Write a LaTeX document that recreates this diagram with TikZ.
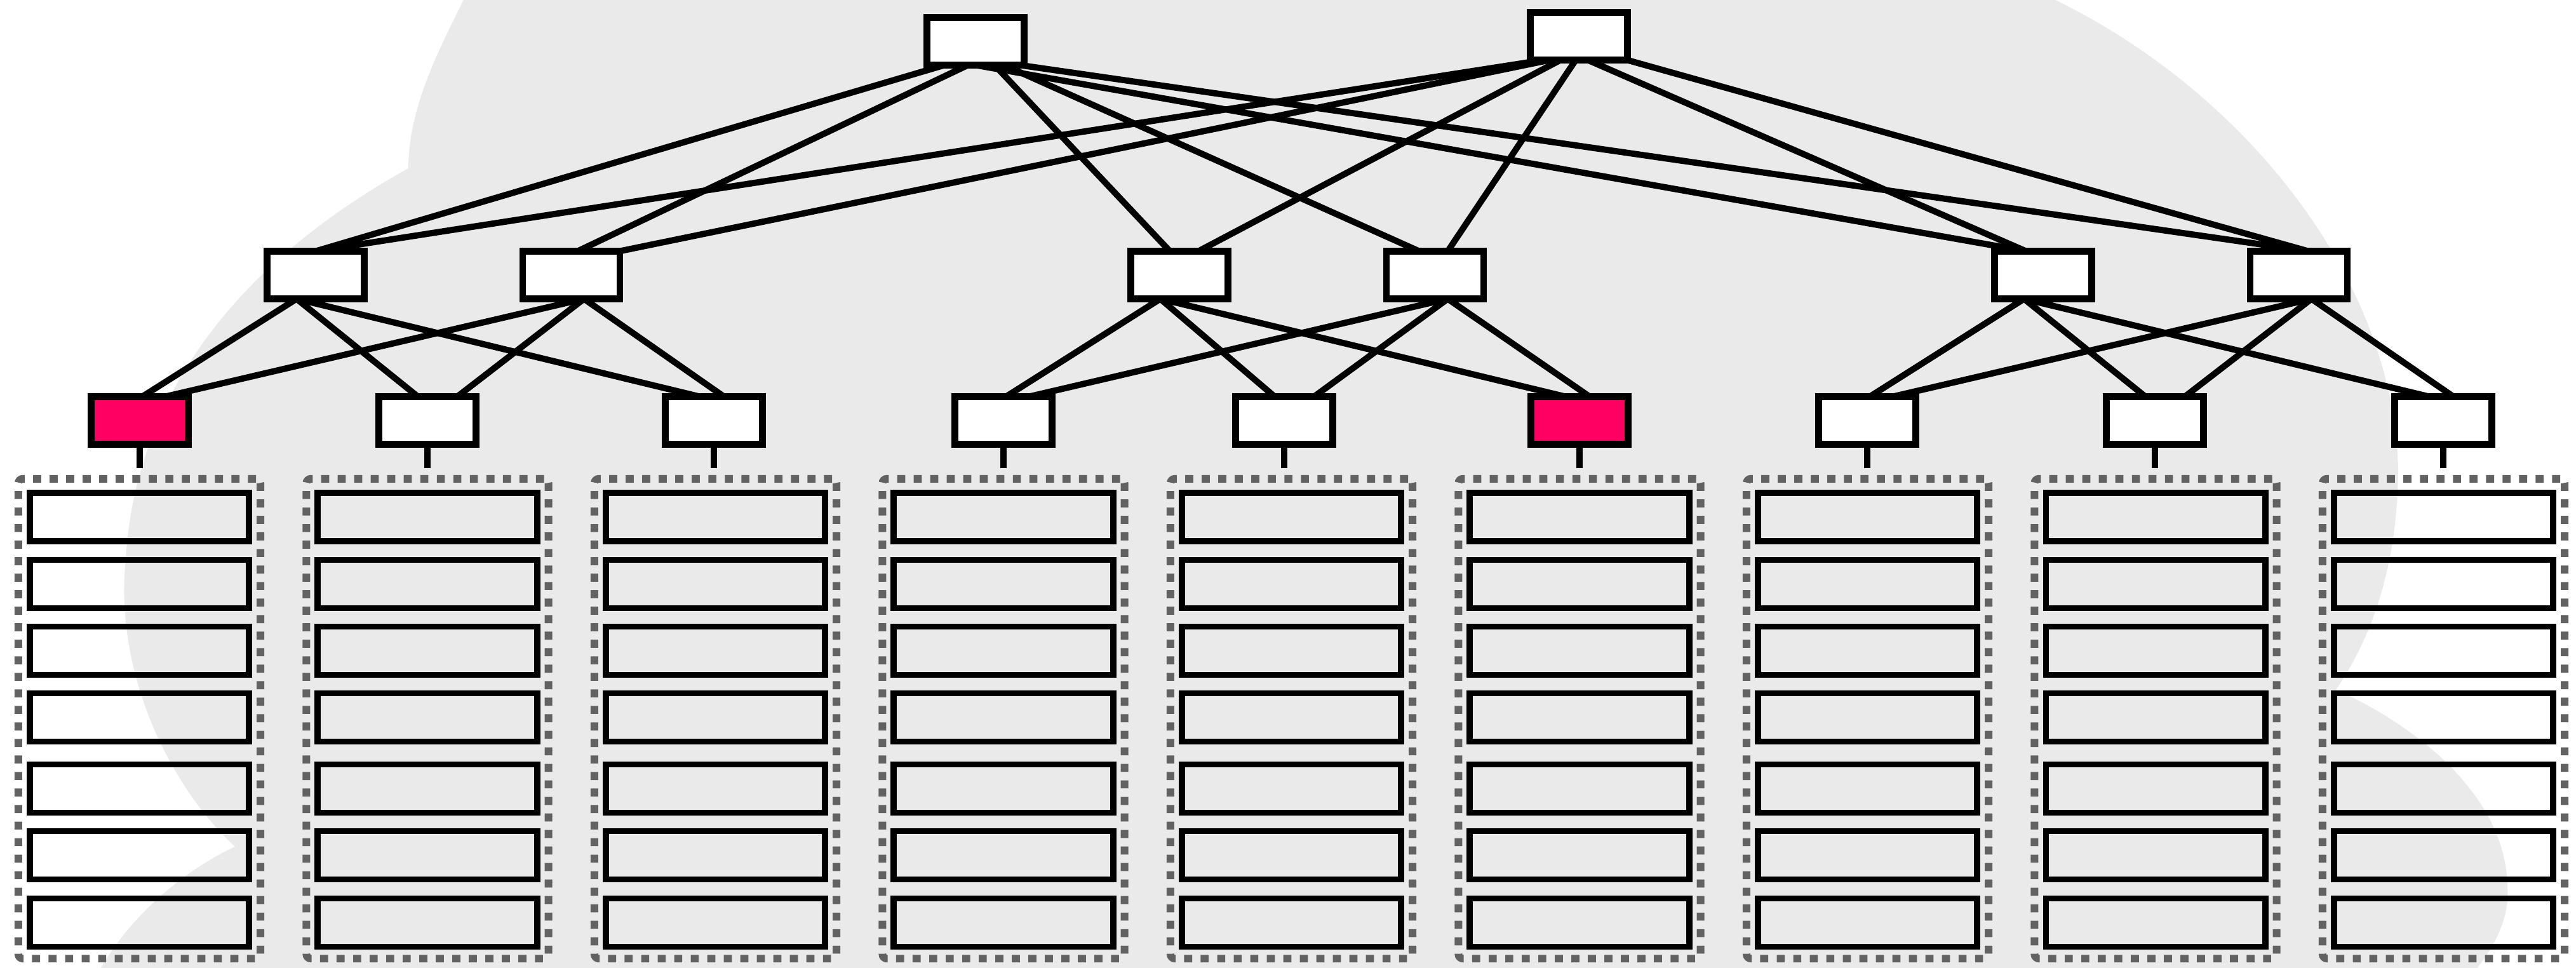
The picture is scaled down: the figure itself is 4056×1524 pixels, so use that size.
\documentclass[tikz,border=0pt]{standalone}
\usetikzlibrary{calc}
\definecolor{cloudgrey}{RGB}{234,234,234}
\definecolor{rackgrey}{RGB}{98,98,98}
\definecolor{hotpink}{RGB}{255,0,98}
\pgfdeclarelayer{cloudlayer}
\pgfdeclarelayer{edgelayer}
\pgfsetlayers{cloudlayer,edgelayer,main}

\begin{document}
\begin{tikzpicture}[x=0.01cm,y=-0.01cm,
  switch/.style={draw=black, line width=3pt, fill=white, minimum width=1.53cm,
                 minimum height=0.75cm, inner sep=0pt, outer sep=0pt},
  hot/.style={switch, fill=hotpink},
  server/.style={draw=black, line width=2.8pt, minimum width=3.45cm,
                 minimum height=0.76cm, inner sep=0pt, outer sep=0pt},
  rack/.style={draw=rackgrey, line width=3.4pt, dash pattern=on 3.6pt off 3.8pt,
               rounded corners=2pt, minimum width=3.81cm, minimum height=7.55cm,
               inner sep=0pt, outer sep=0pt},
  link/.style={line width=2.8pt, black},
  stub/.style={line width=3pt, black}
]
\useasboundingbox (0,0) rectangle (4056,1524);

% shaded cloud behind the whole network
\begin{pgfonlayer}{cloudlayer}
  \fill[white] (0,0) rectangle (4056,1524);
  \begin{scope}
    \clip (0,0) rectangle (4056,1524);
    \fill[cloudgrey] (735,-10) .. controls (690,80) and (643,170) .. (643,265)
      .. controls (400,400) and (215,600) .. (198,880)
      .. controls (180,1050) and (260,1230) .. (370,1333)
      .. controls (290,1370) and (190,1450) .. (140,1560)
      -- (3870,1560)
      .. controls (3925,1500) and (3952,1450) .. (3948,1395)
      .. controls (3945,1250) and (3800,1140) .. (3678,1086)
      .. controls (3740,995) and (3775,880) .. (3776,740)
      .. controls (3770,430) and (3520,130) .. (3215,-10)
      -- cycle;
  \end{scope}
\end{pgfonlayer}

% core switches
\node[switch] (a) at (1536,65) {};
\node[switch] (b) at (2486,57) {};

% aggregation switches
\foreach \n/\x in {m1/497, m2/899.5, m3/1857, m4/2259.5, m5/3217, m6/3619.5}
  \node[switch] (\n) at (\x,433) {};

% top-of-rack switches
\node[hot]    (t1) at (220,662) {};
\node[switch] (t2) at (673,662) {};
\node[switch] (t3) at (1124,662) {};
\node[switch] (t4) at (1580,662) {};
\node[switch] (t5) at (2022,662) {};
\node[hot]    (t6) at (2487,662) {};
\node[switch] (t7) at (2940,662) {};
\node[switch] (t8) at (3393,662) {};
\node[switch] (t9) at (3847,662) {};

% racks with their servers
\foreach \r [evaluate=\r as \cx using 219.5+453.5*(\r-1)] in {1,...,9} {
  \node[rack] (r\r) at (\cx,1131.5) {};
  \foreach \k/\y in {1/814, 2/919.5, 3/1024.5, 4/1129.5, 5/1241.5, 6/1346.5, 7/1452.5}
    \node[server] (s\r-\k) at (\cx,\y) {};
}

% rack uplinks
\foreach \t/\x in {1/220, 2/673, 3/1124, 4/1580, 5/2022, 6/2487, 7/2940, 8/3393, 9/3847} {
  \coordinate (u\t) at (\x,737);
  \draw[stub] (t\t.south) -- (u\t);
}

\begin{pgfonlayer}{edgelayer}
  % core to aggregation
  \foreach \m/\ao/\mo in {m1/-49/0, m2/-12/10, m3/30/-15, m4/45/-25, m5/0/-27, m6/70/15}
    \draw[link] ($(a.south)+(\ao,0)$) -- ($(\m.north)+(\mo,0)$);
  \foreach \m/\bo/\mo in {m1/-56/0, m2/-46/76, m3/-29/30, m4/-5/20, m5/14/-27, m6/76/15}
    \draw[link] ($(b.south)+(\bo,0)$) -- ($(\m.north)+(\mo,0)$);
  % aggregation to top-of-rack, pod by pod
  \foreach \p/\q/\ta/\tb/\tc in {m1/m2/t1/t2/t3, m3/m4/t4/t5/t6, m5/m6/t7/t8/t9} {
    \draw[link] ($(\p.south)+(-30,0)$) -- ($(\ta.north)+(4,0)$);
    \draw[link] ($(\p.south)+(-30,0)$) -- ($(\tb.north)+(-15,0)$);
    \draw[link] ($(\p.south)+(-30,0)$) -- ($(\tc.north)+(-22,0)$);
    \draw[link] ($(\q.south)+(20,0)$) -- ($(\ta.north)+(40,0)$);
    \draw[link] ($(\q.south)+(20,0)$) -- ($(\tb.north)+(47,0)$);
    \draw[link] ($(\q.south)+(20,0)$) -- ($(\tc.north)+(16,0)$);
  }
\end{pgfonlayer}
\end{tikzpicture}
\end{document}
